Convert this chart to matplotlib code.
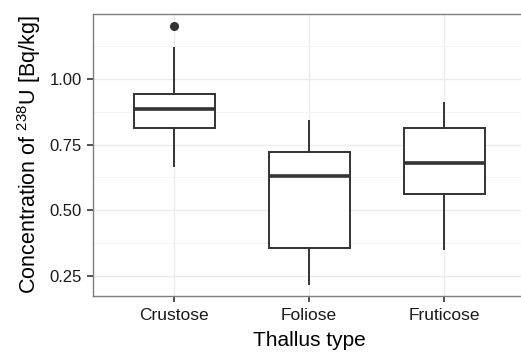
import matplotlib
matplotlib.use("Agg")
import matplotlib.pyplot as plt
from matplotlib.ticker import MultipleLocator

plt.rcParams['font.family'] = ['Liberation Sans', 'DejaVu Sans']
plt.rcParams['mathtext.default'] = 'regular'

categories = ["Crustose", "Foliose", "Fruticose"]
whisker_low = [0.670, 0.218, 0.352]
q1 = [0.815, 0.355, 0.561]
median = [0.886, 0.632, 0.680]
q3 = [0.944, 0.721, 0.813]
whisker_high = [1.117, 0.838, 0.907]
outliers = [[1.200], [], []]

yticks = [0.25, 0.50, 0.75, 1.00]
ytick_labels = ["0.25", "0.50", "0.75", "1.00"]

fig = plt.figure(figsize=(5.21, 3.52), dpi=100)
W, H = 521, 352
left, right, top, bottom = 93, 525, 14, 296
ax = fig.add_axes([left / W, 1 - bottom / H, (right - left) / W, (bottom - top) / H])

stats = []
for i, c in enumerate(categories):
    stats.append(dict(label=c, whislo=whisker_low[i], q1=q1[i], med=median[i],
                      q3=q3[i], whishi=whisker_high[i], fliers=outliers[i]))

dark = "#333333"
ax.bxp(stats, positions=range(1, len(categories) + 1), widths=0.6, showcaps=False,
       patch_artist=True,
       boxprops=dict(facecolor="white", edgecolor=dark, linewidth=1.4),
       whiskerprops=dict(color=dark, linewidth=1.4),
       medianprops=dict(color=dark, linewidth=2.6, solid_capstyle="butt"),
       flierprops=dict(marker="o", markerfacecolor=dark, markeredgecolor=dark,
                       markersize=5.5, linestyle="none"),
       zorder=3)

ax.set_xlim(0.4, 3.6)
ax.set_ylim(0.174, 1.247)
ax.set_yticks(yticks)
ax.set_yticklabels(ytick_labels)
ax.yaxis.set_minor_locator(MultipleLocator(0.125))
ax.set_xticks(range(1, len(categories) + 1))
ax.set_xticklabels(categories)

ax.grid(True, which="major", color="#ebebeb", linewidth=1.0, zorder=0)
ax.grid(True, which="minor", axis="y", color="#f5f5f5", linewidth=0.8, zorder=0)
ax.set_axisbelow(True)

for s in ax.spines.values():
    s.set_color("#7f7f7f")
    s.set_linewidth(1.0)

ax.tick_params(axis="both", which="major", colors=dark, labelcolor="#1a1a1a",
               labelsize=12, length=4.5, width=1.2, pad=3.5)
ax.tick_params(axis="x", which="major", labelsize=12.5, pad=4)
ax.tick_params(axis="y", which="minor", length=0)

ax.set_xlabel("Thallus type", fontsize=15, labelpad=6)
ax.set_ylabel("Concentration of $^{238}$U [Bq/kg]", fontsize=15.5, labelpad=5)

fig.savefig("out.png", dpi=100)
